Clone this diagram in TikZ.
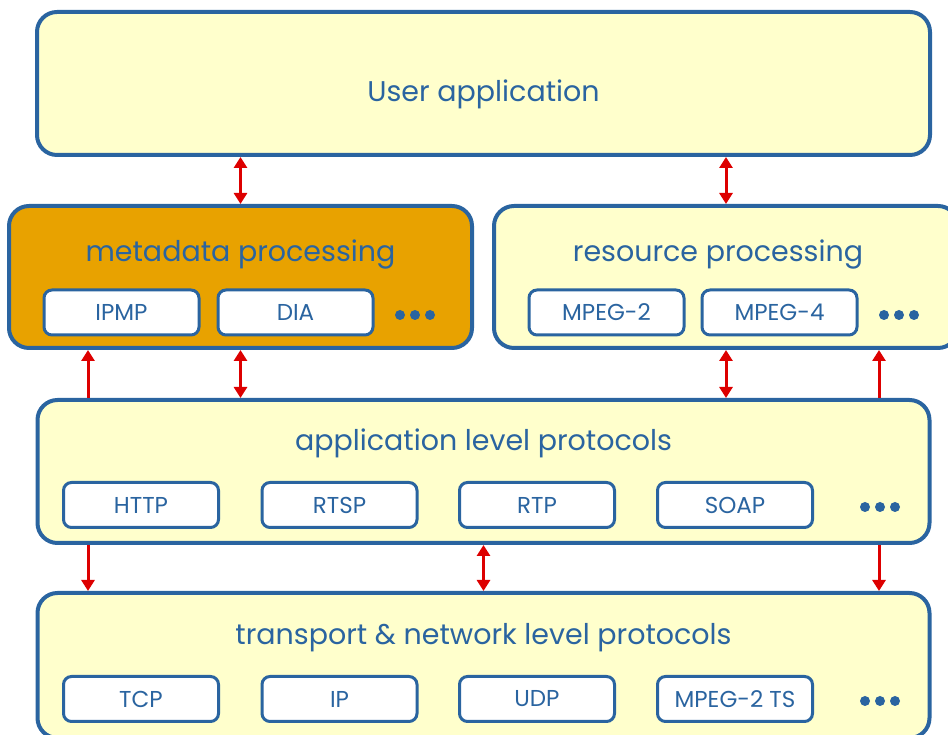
\documentclass[tikz,border=0pt]{standalone}
\usepackage{fontspec}
\setmainfont{Poppins}
\usetikzlibrary{arrows.meta}
\definecolor{lineblue}{HTML}{2A64A0}
\definecolor{paleyellow}{HTML}{FFFFCC}
\definecolor{metaorange}{HTML}{E8A200}
\definecolor{arrowred}{HTML}{DD0000}
\tikzset{
  layer/.style={draw=lineblue, line width=4pt, rounded corners=20pt, fill=paleyellow},
  title/.style={text=lineblue, font=\fontsize{28.5}{33}\selectfont},
  item/.style={draw=lineblue, line width=3pt, rounded corners=8pt, fill=white,
    minimum width=155pt, minimum height=45pt, text=lineblue, font=\fontsize{23}{27}\selectfont},
  link/.style={draw=arrowred, line width=3pt},
  dbl/.style={link, {Triangle[width=13pt,length=11pt]}-{Triangle[width=13pt,length=11pt]}},
  one/.style={link, -{Triangle[width=13pt,length=11pt]}}
}
\begin{document}
\begin{tikzpicture}[x=1pt,y=1pt]
        \useasboundingbox (0,0) rectangle (948,735);
        \clip (0,0) rectangle (948,735);

        % layers
        \node (ua) at (483.5, 651.5) [layer, minimum width=893pt, minimum height=143pt] {};
        \node (meta) at (240.5, 458) [layer, fill=metaorange, minimum width=463pt, minimum height=142pt] {};
        \node (res) at (726, 458) [layer, minimum width=464pt, minimum height=142pt] {};
        \node (app) at (483.5, 263.5) [layer, minimum width=892pt, minimum height=143pt] {};
        \node (tnl) at (483.5, 69.5) [layer, minimum width=892pt, minimum height=145pt] {};

        \node (uatitle) at (483.5, 641) [title] {User application};
        \node (metatitle) at (240.5, 480) [title] {metadata processing};
        \node (restitle) at (718, 480) [title] {resource processing};
        \node (apptitle) at (483.5, 292) [title] {application level protocols};
        \node (tnltitle) at (483.5, 97) [title] {transport \& network level protocols};

        % items
        \node (ipmp) at (121.5, 422.5) [item] {IPMP};
        \node (dia) at (295.5, 422.5) [item] {DIA};
        \node (mpegtwo) at (606.5, 422.5) [item] {MPEG-2};
        \node (mpegfour) at (779.5, 422.5) [item] {MPEG-4};

        \node (http) at (141, 230) [item] {HTTP};
        \node (rtsp) at (339.5, 230) [item] {RTSP};
        \node (rtp) at (537, 230) [item] {RTP};
        \node (soap) at (735, 230) [item] {SOAP};

        \node (tcp) at (141, 36) [item] {TCP};
        \node (ip) at (339.5, 36) [item] {IP};
        \node (udp) at (537, 36) [item] {UDP};
        \node (mpegts) at (735, 36) [item] {MPEG-2 TS};

        % dots
        \foreach \x/\y in {400/420, 884/420, 865/228, 865/34}
          \foreach \i in {0,1,2}
            \fill[lineblue] (\x+\i*15, \y) circle (5pt);

        % arrows
        \coordinate (lx) at (88, 0);
        \coordinate (rx) at (879, 0);
        \draw[dbl] (ua.south -| meta.north) -- (meta.north);
        \draw[dbl] (ua.south -| res.north) -- (res.north);
        \draw[dbl] (meta.south) -- (app.north -| meta.south);
        \draw[one] (app.north -| lx) -- (meta.south -| lx);
        \draw[dbl] (res.south) -- (app.north -| res.south);
        \draw[one] (app.north -| rx) -- (res.south -| rx);
        \draw[one] (app.south -| lx) -- (tnl.north -| lx);
        \draw[dbl] (app.south) -- (tnl.north);
        \draw[one] (app.south -| rx) -- (tnl.north -| rx);
\end{tikzpicture}
\end{document}
